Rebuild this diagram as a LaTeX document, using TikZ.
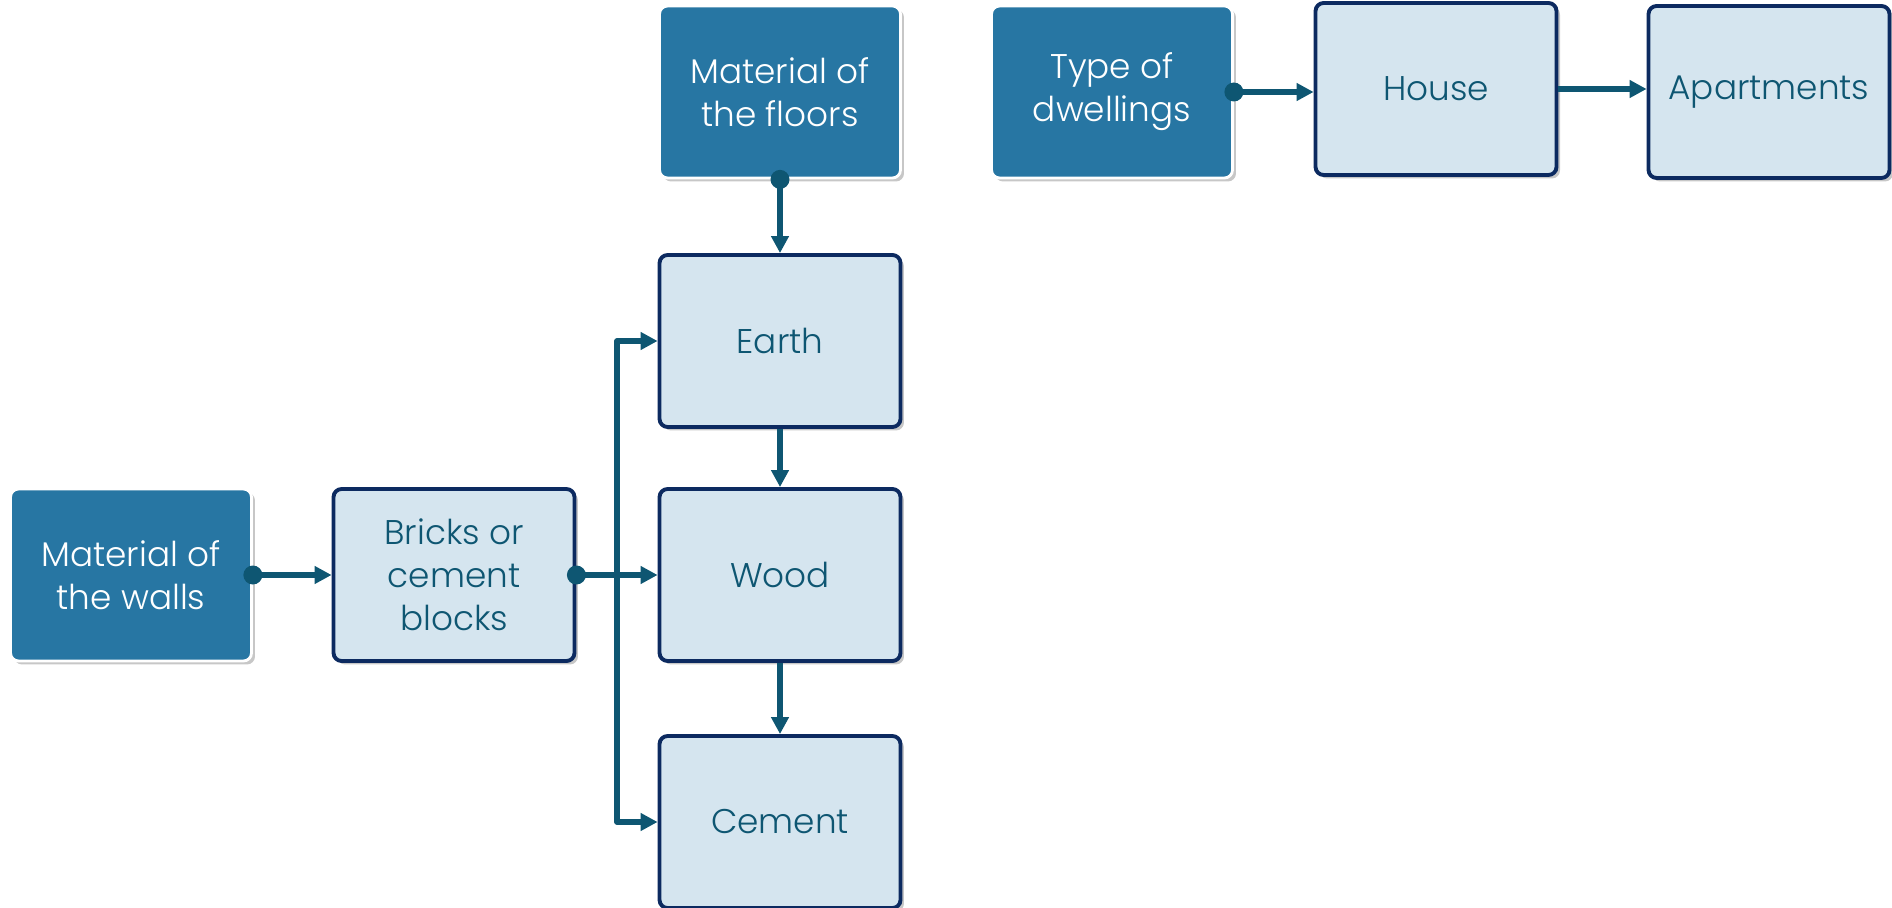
\documentclass[tikz,border=0pt]{standalone}
\usepackage{fontspec}
\setmainfont{Poppins}[UprightFont=* Light]
\usetikzlibrary{arrows.meta,shadows}
\definecolor{topblue}{HTML}{2776A3}
\definecolor{paleblue}{HTML}{D5E5EF}
\definecolor{navyline}{HTML}{0C2A60}
\definecolor{tealink}{HTML}{0E5672}
\begin{document}
\begin{tikzpicture}[x=0.02cm, y=-0.02cm, line join=round,
	font=\fontsize{19.5}{24.5}\selectfont,
	box/.style={rounded corners=0.16cm, minimum width=4.82cm, minimum height=3.44cm, align=center,
		drop shadow={shadow xshift=0.07cm, shadow yshift=-0.07cm, opacity=0.4, fill=black!55}},
	headbox/.style={box, fill=topblue, draw=white, line width=1.6pt, text=white},
	itembox/.style={box, fill=paleblue, draw=navyline, line width=2.2pt, text=tealink},
	flow/.style={draw=tealink, line width=3pt, -{Triangle[length=0.34cm, width=0.34cm]}},
	dot/.style={fill=tealink, draw=none}]
	\useasboundingbox (0,0) rectangle (1892,908);
	% the three heading boxes
	\node[headbox] (walls) at (131,575) {Material of\\the walls};
	\node[headbox] (floors) at (780,92) {Material of\\the floors};
	\node[headbox] (dwell) at (1112,92) {Type of\\dwellings};
	% the materials and dwellings
	\node[itembox] (bricks) at (454,575) {Bricks or\\cement\\blocks};
	\node[itembox] (earth) at (780,341) {Earth};
	\node[itembox] (wood) at (780,575) {Wood};
	\node[itembox] (cement) at (780,822) {Cement};
	\node[itembox] (house) at (1436,89) {House};
	\node[itembox] (apart) at (1769,92) {Apartments};
	\coordinate (bus) at (617,575);
	% connectors
	\draw[flow] (walls.east) -- (bricks.west);
	\draw[flow] (bricks.east) -- (wood.west);
	\draw[flow] (bus) |- (earth.west);
	\draw[flow] (bus) |- (cement.west);
	\draw[flow] (floors.south) -- (earth.north);
	\draw[flow] (earth.south) -- (wood.north);
	\draw[flow] (wood.south) -- (cement.north);
	\draw[flow] (dwell.east) -- (dwell.east -| house.west);
	\draw[flow] (house.east) -- (house.east -| apart.west);
	\fill[dot] (walls.east) circle (0.19cm) (bricks.east) circle (0.19cm)
		(floors.south) circle (0.19cm) (dwell.east) circle (0.19cm);
\end{tikzpicture}
\end{document}
